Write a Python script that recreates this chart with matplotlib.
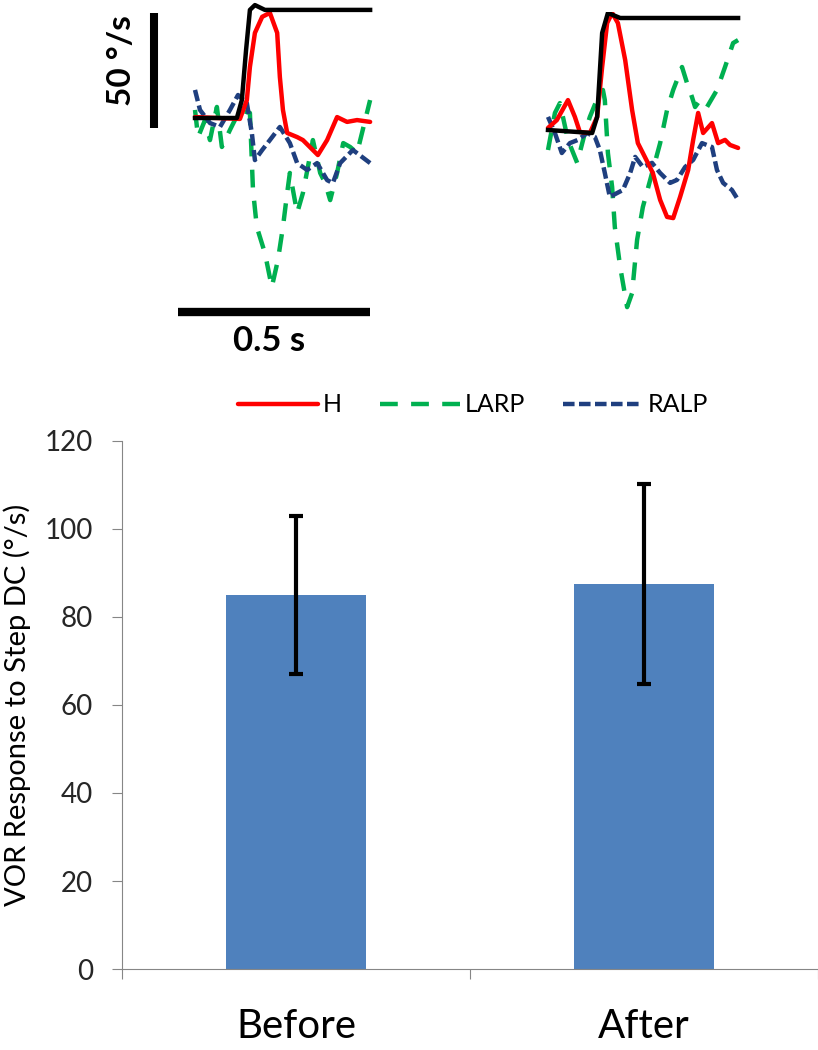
import matplotlib.pyplot as plt
import numpy as np

plt.rcParams['font.family'] = ['Lato', 'DejaVu Sans']

W, H = 818, 1050

# ---- traces (time in ms, velocity in deg/s) ----
before_black_t = [0, 109, 122, 133, 143, 156, 182, 456]
before_black_v = [0, 0, 7.8, 29.6, 47, 49.1, 47, 47]

before_h_t = [0, 117, 135, 143, 156, 175, 195, 214, 221, 229, 240, 266, 281, 299, 320, 344, 370, 396, 422, 456]
before_h_v = [0.4, -0.4, 7.8, 22.2, 37, 44, 45.7, 37, 17.8, 3.5, -6.5, -8.3, -9.6, -12.6, -16.1, -9.6, 0.4, -1.7, -0.9, -1.7]

before_larp_t = [0, 8, 26, 39, 57, 70, 91, 117, 143, 151, 161, 182, 200, 216, 229, 240, 247, 266, 281, 294, 307,
                 326, 339, 352, 370, 386, 404, 422, 456]
before_larp_v = [3.5, -8.3, -0.9, -9.6, 4.8, -12.6, -5.2, 3.5, 2.2, -31.3, -47.4, -58.7, -73.5, -61.7, -47.4, -32.6,
                 -23.9, -41.3, -32.6, -21.3, -9.6, -23.9, -28.3, -35.7, -23.9, -10.9, -12.6, -15.2, 7.8]

before_ralp_t = [0, 13, 39, 65, 91, 112, 135, 148, 156, 175, 195, 221, 247, 266, 292, 318, 344, 359, 378, 411, 456]
before_ralp_v = [12.2, 3.5, -2.2, -3.9, 3.5, 10, 6.5, -6.5, -18.3, -13.9, -9.6, -3.9, -10.9, -19.6, -22.6, -19.6,
                 -27, -28.3, -19.6, -13.9, -19.6]

after_black_t = [0, 115, 128, 141, 156, 188, 495]
after_black_v = [0, -1.3, 5.7, 42.2, 50.9, 48.7, 48.7]

after_h_t = [0, 23, 52, 70, 83, 109, 128, 141, 154, 167, 182, 201, 219, 234, 260, 273, 292, 310, 326, 344, 365,
             378, 391, 404, 427, 443, 461, 474, 495]
after_h_v = [0.9, 4.3, 13, 5.7, -0.9, -1.3, 5.7, 27.4, 46.5, 50.9, 46.5, 30.4, 8.7, -5.7, -14.3, -18.7, -30.4,
             -37.8, -38.3, -29.1, -17.4, -4.3, 7.4, -1.3, 3, -5.7, -4.3, -6.5, -7.8]

after_larp_t = [0, 18, 31, 52, 76, 96, 109, 130, 143, 148, 156, 167, 174, 188, 206, 219, 232, 247, 271, 292, 310,
                326, 349, 362, 375, 383, 396, 414, 440, 461, 482, 495]
after_larp_v = [-8.7, 7.4, 11.7, -4.3, -14.3, -1.3, 5.7, 14.3, 17.4, 13, -10, -24.8, -42.2, -59.6, -77, -70.9,
                -47.8, -33.5, -18.7, -5.7, 8.7, 17.4, 27.4, 20.4, 14.3, 10, 13, 10, 17.4, 27.4, 37.8, 39.1]

after_ralp_t = [0, 18, 36, 57, 78, 102, 122, 135, 148, 161, 180, 195, 214, 227, 247, 271, 292, 318, 336, 357, 378,
                401, 427, 440, 456, 479, 495]
after_ralp_v = [5.7, -1.3, -10, -5.7, -4.3, -1.3, -3, -8.7, -18.7, -29.1, -27.4, -26.1, -18.7, -11.7, -16.1, -14.3,
                -18.7, -23, -21.7, -16.1, -13, -5.7, -7.4, -17.4, -23, -26.1, -30.4]

# ---- bar chart ----
conditions = ['Before', 'After']
vor_mean = [85.0, 87.5]
vor_err = [18.0, 22.8]

fig = plt.figure(figsize=(W / 100, H / 100), dpi=100)


def px_axes(x0, y0, x1, y1):
    return fig.add_axes([x0 / W, 1 - y1 / H, (x1 - x0) / W, (y1 - y0) / H])


MS_PER_PX = 2.604
DEG_PER_PX = 0.4348
ylim = (-252 * DEG_PER_PX, 118 * DEG_PER_PX)

lw = 3.2
red, green, blue = '#ff0000', '#00b050', '#1f3f7f'

ax_b = px_axes(90, 0, 390, 370)
ax_b.set_xlim(-105 * MS_PER_PX, 195 * MS_PER_PX)
ax_a = px_axes(530, 12, 760, 382)
ax_a.set_xlim(-18 * MS_PER_PX, 212 * MS_PER_PX)

panels = [
    (ax_b, before_black_t, before_black_v, before_h_t, before_h_v, before_larp_t, before_larp_v,
     before_ralp_t, before_ralp_v),
    (ax_a, after_black_t, after_black_v, after_h_t, after_h_v, after_larp_t, after_larp_v,
     after_ralp_t, after_ralp_v),
]
for ax, bt, bv, ht, hv, lt, lv, rt, rv in panels:
    ax.set_ylim(*ylim)
    ax.axis('off')
    ax.plot(lt, lv, color=green, lw=lw, dashes=(4, 3), label='LARP')
    ax.plot(rt, rv, color=blue, lw=lw, dashes=(2.6, 1), label='RALP')
    ax.plot(ht, hv, color=red, lw=lw, label='H', solid_capstyle='round')
    ax.plot(bt, bv, color='black', lw=lw)

# scale bars (50 deg/s, 0.5 s)
ax_b.plot([-107, -107], [-4.3, 45.7], color='black', lw=5.8, solid_capstyle='butt')
ax_b.plot([-44, 456], [-84.3, -84.3], color='black', lw=6, solid_capstyle='butt')
ax_b.text(-192, 25, '50 °/s', rotation=90, ha='center', va='center', fontsize=24, fontweight='bold')
ax_b.text(193, -97, '0.5 s', ha='center', va='center', fontsize=25, fontweight='bold')

hh, ll = ax_b.get_legend_handles_labels()
order = [ll.index('H'), ll.index('LARP'), ll.index('RALP')]
fig.legend([hh[i] for i in order], [ll[i] for i in order], loc='center',
           bbox_to_anchor=(473 / W, 1 - 405 / H), ncol=3, frameon=False, fontsize=18,
           handlelength=3.2, columnspacing=1.5, handletextpad=0.2, borderpad=0, borderaxespad=0)

# bar chart
ax = px_axes(122, 441, 818, 969)
x = np.arange(len(conditions))
ax.bar(x, vor_mean, width=0.4, color='#4f81bd')
ax.errorbar(x, vor_mean, yerr=vor_err, fmt='none', ecolor='black', elinewidth=3, capsize=5, capthick=3)
ax.set_xlim(-0.5, 1.5)
ax.set_ylim(0, 120)
ax.set_yticks(range(0, 121, 20))
ax.set_xticks([-0.5, 0.5, 1.5])
ax.set_xticklabels([])
ax.set_xticks(x, minor=True)
ax.set_xticklabels(conditions, minor=True, fontsize=29)
ax.tick_params(axis='x', which='minor', length=0, pad=28)
ax.tick_params(axis='both', which='major', length=7, color='#868686', labelsize=20, labelcolor='#262626')
ax.tick_params(axis='y', which='major', pad=14)
for s in ['top', 'right']:
    ax.spines[s].set_visible(False)
for s in ['left', 'bottom']:
    ax.spines[s].set_color('#868686')
ax.set_ylabel('VOR Response to Step DC (°/s)', fontsize=21, labelpad=10)

fig.savefig('out.png', dpi=100)
